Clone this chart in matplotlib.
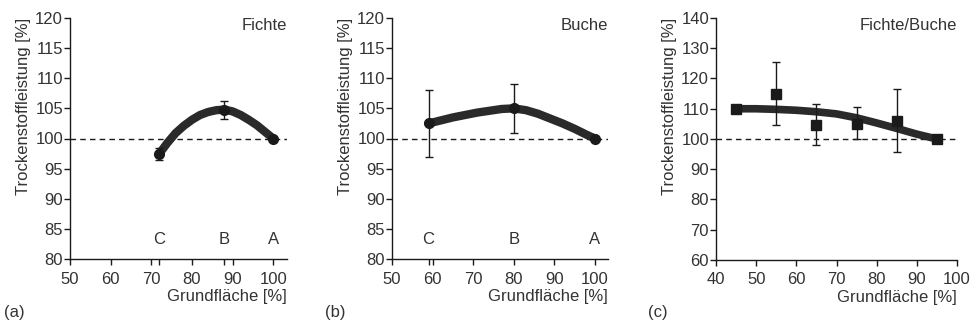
import numpy as np
import matplotlib
matplotlib.use("Agg")
import matplotlib.pyplot as plt

plt.rcParams["font.family"] = ["Liberation Sans", "DejaVu Sans"]
FS = 12

# (a) Fichte
a_pts_x = [72, 88, 100]
a_pts_y = [97.5, 104.8, 100.0]
a_err = [1.0, 1.5, 0.0]
a_curve_x = [72, 74, 76, 78, 80, 82, 84, 86, 88, 90, 92, 94, 96, 98, 100]
a_curve_y = [97.5, 99.3, 100.9, 102.1, 103.1, 103.9, 104.4, 104.7, 104.8, 104.5, 103.9, 103.1, 102.2, 101.1, 100.0]
a_labels = ["C", "B", "A"]

# (b) Buche
b_pts_x = [59, 80, 100]
b_pts_y = [102.5, 105.0, 100.0]
b_err_lo = [5.5, 4.1, 0.0]
b_err_hi = [5.5, 4.0, 0.0]
b_curve_x = [59, 62, 65, 68, 71, 74, 77, 80, 83, 86, 89, 92, 95, 98, 100]
b_curve_y = [102.5, 103.0, 103.5, 103.9, 104.3, 104.6, 104.9, 105.0, 104.7, 104.1, 103.3, 102.5, 101.6, 100.6, 100.0]
b_labels = ["C", "B", "A"]

# (c) Fichte/Buche
c_pts_x = [45, 55, 65, 75, 85, 95]
c_pts_y = [110.0, 115.0, 104.5, 105.0, 106.0, 100.0]
c_err_lo = [0.0, 10.5, 6.5, 5.0, 10.3, 0.0]
c_err_hi = [0.0, 10.5, 7.0, 5.5, 10.5, 0.0]
c_curve_x = [45, 50, 55, 60, 65, 70, 75, 80, 85, 90, 95]
c_curve_y = [110.0, 110.0, 109.8, 109.5, 109.0, 108.3, 107.0, 105.3, 103.5, 101.6, 100.0]

fig = plt.figure(figsize=(9.73, 3.27), dpi=100)
W, H = 973, 327

def make_ax(x0, x1, y0, y1):
    return fig.add_axes([x0 / W, 1 - y1 / H, (x1 - x0) / W, (y1 - y0) / H])

ink = "#1a1a1a"
txt = "#333333"

def style(ax, xlim, ylim, xticks, yticks, title):
    ax.set_xlim(*xlim)
    ax.set_ylim(*ylim)
    ax.set_xticks(xticks)
    ax.set_yticks(yticks)
    for s in ["top", "right"]:
        ax.spines[s].set_visible(False)
    for s in ["left", "bottom"]:
        ax.spines[s].set_color(ink)
        ax.spines[s].set_linewidth(1.0)
    ax.tick_params(direction="out", length=4, width=1, colors=ink, labelcolor=txt, labelsize=FS, pad=1)
    ax.tick_params(axis="x", pad=5)
    ax.axhline(100, color=ink, ls=(0, (4, 3)), lw=1.0, zorder=1)
    ax.set_ylabel("Trockenstoffleistung [%]", color=txt, fontsize=FS, loc="top", labelpad=3)
    ax.set_xlabel("Grundfläche [%]", color=txt, fontsize=FS, loc="right", labelpad=2)
    ax.text(1.0, 1.0, title, transform=ax.transAxes, ha="right", va="top", color=txt, fontsize=FS)

# panel (a)
ax = make_ax(70, 287, 18, 259)
style(ax, (50, 103.4), (80, 120), range(50, 101, 10), range(80, 121, 5), "Fichte")
ax.plot(a_curve_x, a_curve_y, color="#2a2a2a", lw=6, solid_capstyle="round", zorder=3)
ax.errorbar(a_pts_x, a_pts_y, yerr=a_err, fmt="o", color=ink, ms=7, capsize=3, elinewidth=1, zorder=4)
ax.set_xticks(a_pts_x[:2], minor=True)
ax.tick_params(which="minor", length=4, width=1, colors=ink)
for x, lab in zip(a_pts_x, a_labels):
    ax.text(x, 83.2, lab, ha="center", va="center", color=txt, fontsize=FS)

# panel (b)
ax = make_ax(392, 608, 18, 259)
style(ax, (50, 103.2), (80, 120), range(50, 101, 10), range(80, 121, 5), "Buche")
ax.plot(b_curve_x, b_curve_y, color="#2a2a2a", lw=6, solid_capstyle="round", zorder=3)
ax.errorbar(b_pts_x, b_pts_y, yerr=[b_err_lo, b_err_hi], fmt="o", color=ink, ms=7, capsize=3, elinewidth=1, zorder=4)
ax.set_xticks(b_pts_x[:1], minor=True)
ax.tick_params(which="minor", length=4, width=1, colors=ink)
for x, lab in zip(b_pts_x, b_labels):
    ax.text(x, 83.2, lab, ha="center", va="center", color=txt, fontsize=FS)

# panel (c)
ax = make_ax(716, 957, 18, 260)
style(ax, (40, 100), (60, 140), range(40, 101, 10), range(60, 141, 10), "Fichte/Buche")
ax.plot(c_curve_x, c_curve_y, color="#2a2a2a", lw=5.5, solid_capstyle="butt", zorder=3)
ax.errorbar(c_pts_x, c_pts_y, yerr=[c_err_lo, c_err_hi], fmt="s", color=ink, ms=7.5, capsize=3, elinewidth=1, zorder=4)

# panel tags
for xpix, tag in [(4, "(a)"), (325, "(b)"), (648, "(c)")]:
    fig.text(xpix / W, 1 - 313 / H, tag, ha="left", va="center", color=txt, fontsize=FS)

fig.savefig("out.png", dpi=100)
